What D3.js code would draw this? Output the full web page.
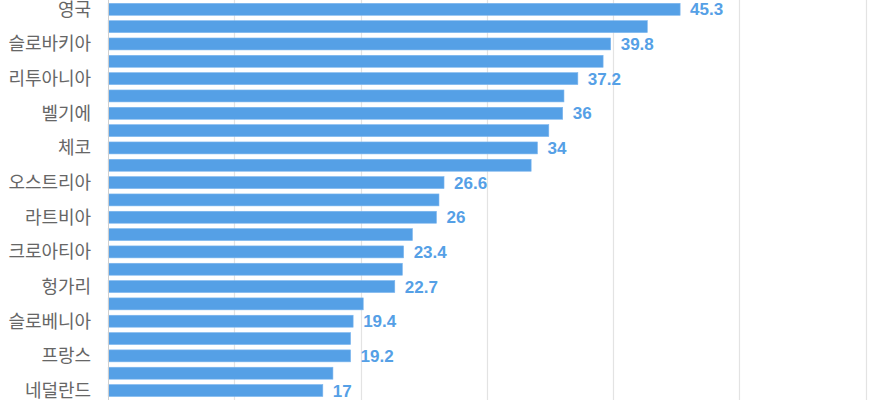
<!DOCTYPE html>
<html>
<head>
<meta charset="utf-8">
<script src="https://cdn.jsdelivr.net/npm/d3@7"></script>
<style>
  html, body { margin: 0; padding: 0; background: #fff; }
  svg { display: block; }
</style>
</head>
<body>
<svg id="chart" width="880" height="400"></svg>
<script>
// Category tick labels (every other one is hidden in the reference, shown as "")
const categoryLabels = [
  "영국", "", "슬로바키아", "", "리투아니아", "", "벨기에", "", "체코", "", "오스트리아", "",
  "라트비아", "", "크로아티아", "", "헝가리", "", "슬로베니아", "", "프랑스", "", "네덜란드"
];
const values = [
  45.3, 42.7, 39.8, 39.2, 37.2, 36.1, 36, 34.9, 34, 33.5, 26.6, 26.2,
  26, 24.1, 23.4, 23.3, 22.7, 20.2, 19.4, 19.2, 19.2, 17.8, 17
];
// Value labels shown only on the labeled bars
const showValue = categoryLabels.map(l => l !== "");
const xTicks = [0, 10, 20, 30, 40, 50, 60];

const W = 880, H = 400;
const left = 108.2, right = 865.7;
const svg = d3.select("#chart");

const idx = d3.range(values.length);
const x = d3.scaleLinear().domain([0, 60]).range([left, right]);
const y = d3.scaleBand().domain(idx).range([0.64, 399.2])
  .paddingInner(0.31).paddingOuter(0.155);

// grid lines
svg.append("g").selectAll("line").data(xTicks.filter(t => t > 0)).join("line")
  .attr("x1", d => Math.round(x(d)) + 0.5).attr("x2", d => Math.round(x(d)) + 0.5)
  .attr("y1", 0).attr("y2", H)
  .attr("stroke", "#e3e3e3").attr("stroke-width", 1.2);

// bars
svg.append("g").selectAll("rect").data(idx).join("rect")
  .attr("x", x(0))
  .attr("y", i => y(i))
  .attr("width", i => x(values[i]) - x(0))
  .attr("height", y.bandwidth())
  .attr("fill", "#55a0e6")
  .attr("stroke", "#7cb6ee").attr("stroke-width", 0.6);

// axis line
svg.append("line")
  .attr("x1", Math.round(left) + 0.5).attr("x2", Math.round(left) + 0.5)
  .attr("y1", 0).attr("y2", H)
  .attr("stroke", "#cfcfcf").attr("stroke-width", 1);

// category labels
svg.append("g").selectAll("text").data(idx.filter(i => categoryLabels[i] !== "")).join("text")
  .attr("x", left - 17)
  .attr("y", i => y(i) + y.bandwidth() / 2)
  .attr("dy", "0.35em")
  .attr("text-anchor", "end")
  .attr("font-family", "'Noto Sans CJK KR', 'Noto Sans', sans-serif")
  .attr("font-size", 18)
  .attr("fill", "#666")
  .text(i => categoryLabels[i]);

// value labels
svg.append("g").selectAll("text").data(idx.filter(i => showValue[i])).join("text")
  .attr("x", i => x(values[i]) + 10)
  .attr("y", i => y(i) + y.bandwidth() / 2)
  .attr("dy", "0.36em")
  .attr("font-family", "'Liberation Sans', Arial, sans-serif")
  .attr("font-weight", "bold")
  .attr("font-size", 17)
  .attr("fill", "#55a0e6")
  .text(i => String(values[i]));
</script>
</body>
</html>
